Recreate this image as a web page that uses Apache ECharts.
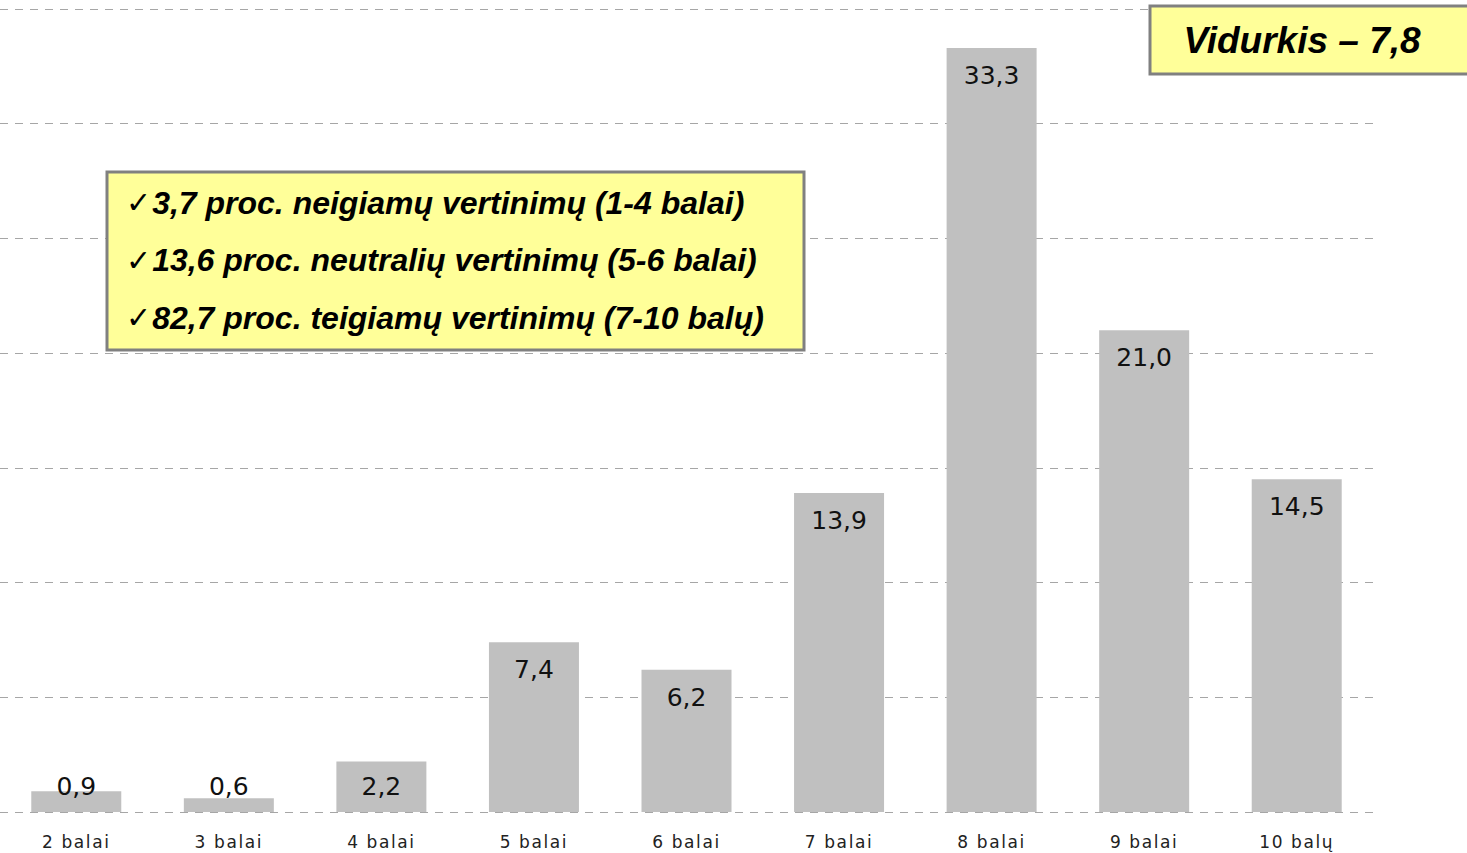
<!DOCTYPE html>
<html>
<head>
<meta charset="utf-8">
<script src="https://cdn.jsdelivr.net/npm/echarts@6/dist/echarts.min.js"></script>
<style>
html,body{margin:0;padding:0;background:#fff;}
#chart{width:1467px;height:853px;}
#chart text[style*="sans-serif"]{letter-spacing:1.6px;}
</style>
</head>
<body>
<div id="chart"></div>
<script>
const categories = ['2 balai','3 balai','4 balai','5 balai','6 balai','7 balai','8 balai','9 balai','10 balų'];
const values = [0.9, 0.6, 2.2, 7.4, 6.2, 13.9, 33.3, 21.0, 14.5];
const summaryLines = [
  '3,7 proc. neigiamų vertinimų (1-4 balai)',
  '13,6 proc. neutralių vertinimų (5-6 balai)',
  '82,7 proc. teigiamų vertinimų (7-10 balų)'
];
const averageText = 'Vidurkis – 7,8';

const fmt = v => v.toFixed(1).replace('.', ',');

const chart = echarts.init(document.getElementById('chart'), null, {renderer:'svg'});

const barData = values.map(v => ({
  value: v,
  label: v < 3 ? {position:'insideBottom', distance: 13} : {position:'insideTop', distance: 15}
}));

const boxText = summaryLines.map(t => '{c|✓}{t|' + t + '}').join('\n');

chart.setOption({
  animation: false,
  backgroundColor: '#ffffff',
  grid: {left: -1, right: 94, top: 9, bottom: 41, containLabel: false},
  xAxis: {
    type: 'category',
    data: categories,
    axisLine: {show: false},
    axisTick: {show: false},
    axisLabel: {
      color: '#222',
      fontFamily: 'DejaVu Sans, sans-serif',
      fontSize: 17,
      margin: 21
    }
  },
  yAxis: {
    type: 'value',
    min: 0, max: 35, interval: 5,
    axisLabel: {show: false},
    axisLine: {show: false},
    axisTick: {show: false},
    splitLine: {show: true, lineStyle: {color: '#a6a6a6', type: [8, 7], width: 1}}
  },
  series: [{
    type: 'bar',
    data: barData,
    barWidth: 90,
    itemStyle: {color: '#c0c0c0'},
    label: {
      show: true,
      color: '#111',
      fontFamily: 'DejaVu Sans',
      fontSize: 25,
      formatter: p => fmt(p.value)
    }
  }],
  graphic: [
    {
      type: 'rect',
      shape: {x: 107, y: 172, width: 697, height: 178},
      style: {fill: '#ffff99', stroke: '#808080', lineWidth: 3},
      z: 10
    },
    {
      type: 'text',
      x: 126, y: 174,
      z: 11,
      style: {
        text: boxText,
        lineHeight: 57.5,
        rich: {
          c: {fontFamily: 'DejaVu Sans', fontSize: 30, fontWeight: 'bold', fill: '#000', lineHeight: 57.5, padding: [0, 1, 0, 0]},
          t: {fontFamily: 'Liberation Sans', fontWeight: 'bold', fontStyle: 'italic', fontSize: 32, fill: '#000', lineHeight: 57.5}
        }
      }
    },
    {
      type: 'rect',
      shape: {x: 1150, y: 6, width: 320, height: 68},
      style: {fill: '#ffff99', stroke: '#808080', lineWidth: 3},
      z: 10
    },
    {
      type: 'text',
      x: 1302, y: 40,
      z: 11,
      style: {
        text: averageText,
        fontFamily: 'Liberation Sans',
        fontWeight: 'bold',
        fontStyle: 'italic',
        fontSize: 37,
        fill: '#000',
        align: 'center',
        verticalAlign: 'middle'
      }
    }
  ]
});
</script>
</body>
</html>
